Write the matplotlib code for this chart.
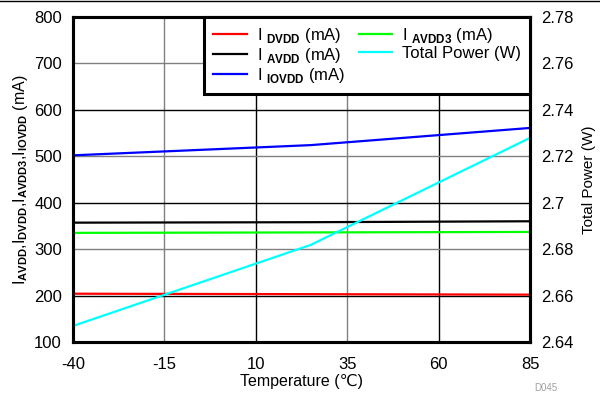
import matplotlib
matplotlib.use("Agg")
import matplotlib.pyplot as plt
from matplotlib.lines import Line2D

plt.rcParams['font.family'] = ['Liberation Sans', 'DejaVu Sans']
plt.rcParams['mathtext.fontset'] = 'custom'
plt.rcParams['mathtext.rm'] = 'Liberation Sans'
plt.rcParams['mathtext.bf'] = 'Liberation Sans:bold'
plt.rcParams['axes.unicode_minus'] = False

# data
temp = [-40, 25, 85]
i_dvdd = [204, 203, 202]
i_avdd = [357, 358, 360]
i_iovdd = [502, 524, 561]
i_avdd3 = [335, 336, 337]
total_power = [2.6469, 2.6818, 2.7279]

x_ticks = [-40, -15, 10, 35, 60, 85]
y_ticks = [100, 200, 300, 400, 500, 600, 700, 800]
y2_ticks = [2.64, 2.66, 2.68, 2.7, 2.72, 2.74, 2.76, 2.78]

fig = plt.figure(figsize=(6, 3.93), dpi=100)
ax = fig.add_axes([0.1217, 0.1298, 0.7617, 0.827])
ax2 = ax.twinx()

ax.plot(temp, i_dvdd, color='#ff0000', lw=1.6, zorder=3)
ax.plot(temp, i_avdd, color='#000000', lw=1.6, zorder=3)
ax.plot(temp, i_iovdd, color='#0000ff', lw=1.6, zorder=3)
ax.plot(temp, i_avdd3, color='#00ff00', lw=1.6, zorder=3)
ax2.plot(temp, total_power, color='#00ffff', lw=1.6)

ax.set_xlim(-40, 85)
ax.set_ylim(100, 800)
ax2.set_ylim(2.64, 2.78)
ax.set_xticks(x_ticks)
ax.set_yticks(y_ticks)
ax2.set_yticks(y2_ticks)
ax2.set_yticklabels(['2.64', '2.66', '2.68', '2.7', '2.72', '2.74', '2.76', '2.78'])

ax.grid(True, color='black', lw=1)
for i, gl in enumerate(ax.get_xgridlines()):
    if i % 2 == 1:
        gl.set_color('#808080')
for i, gl in enumerate(ax.get_ygridlines()):
    if i % 2 == 0:
        gl.set_color('#808080')

for a in (ax, ax2):
    a.tick_params(length=0, labelsize=12, pad=8)
    for s in a.spines.values():
        s.set_linewidth(2.2)
ax.tick_params(axis='x', pad=11)

ax.set_xlabel('Temperature (\u2103)', fontsize=11.5, labelpad=1)
ax.set_ylabel(r'I$_{\mathbf{AVDD}}$,I$_{\mathbf{DVDD}}$,I$_{\mathbf{AVDD3}}$,I$_{\mathbf{IOVDD}}$ (mA)',
              fontsize=11.5, labelpad=3)
ax2.set_ylabel('Total Power (W)', fontsize=11, labelpad=6)

handles = [Line2D([], [], color='#ff0000', lw=1.6),
           Line2D([], [], color='#000000', lw=1.6),
           Line2D([], [], color='#0000ff', lw=1.6),
           Line2D([], [], color='#00ff00', lw=1.6),
           Line2D([], [], color='#00ffff', lw=1.6)]
labels = [r'I $_{\mathbf{DVDD}}$ (mA)', r'I $_{\mathbf{AVDD}}$ (mA)',
          r'I $_{\mathbf{IOVDD}}$ (mA)', r'I $_{\mathbf{AVDD3}}$ (mA)',
          'Total Power (W)']
leg = ax2.legend(handles, labels, ncol=2, loc='upper right', bbox_to_anchor=(1, 1),
                 borderaxespad=0, fancybox=False, framealpha=1, edgecolor='black',
                 fontsize=12, handlelength=2.0, handletextpad=0.6,
                 columnspacing=0.8, labelspacing=0.05, borderpad=0.55)
leg.get_frame().set_linewidth(2.2)

fig.text(0.89, 0.0, 'D045', fontsize=7, color='#a0a0a0', ha='left', va='bottom')
fig.add_artist(Line2D([0, 1], [0.998, 0.998], color='black', lw=1, transform=fig.transFigure))

fig.savefig('out.png', dpi=100)
